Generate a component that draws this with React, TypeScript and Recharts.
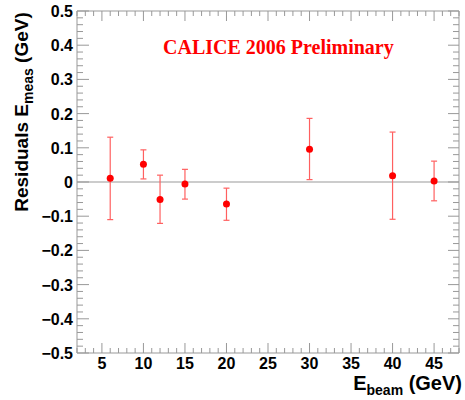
import { ScatterChart, Scatter, XAxis, YAxis, ErrorBar, ReferenceLine, Label } from "recharts";

// beam energies (GeV) and measured residuals (GeV)
const energies = [6, 10, 12, 15, 20, 30, 40, 45];
const residuals = [0.011, 0.052, -0.051, -0.006, -0.064, 0.096, 0.018, 0.003];
const errLow = [0.121, 0.043, 0.07, 0.044, 0.048, 0.089, 0.127, 0.058];
const errHigh = [0.12, 0.042, 0.071, 0.043, 0.046, 0.09, 0.128, 0.058];

const xMajorTicks = [5, 10, 15, 20, 25, 30, 35, 40, 45];
const yMajorTicks = [-0.5, -0.4, -0.3, -0.2, -0.1, 0, 0.1, 0.2, 0.3, 0.4, 0.5];

const AXIS = "#999999";
const RED = "#ff0000";
const SANS = "'Liberation Sans', Arial, sans-serif";
const SERIF = "'Liberation Serif', 'Times New Roman', serif";

// minor ticks: every 1 GeV on x, every 0.02 on y
const xTicks: number[] = [];
for (let v = 2; v <= 48; v++) xTicks.push(v);
const yTicks: number[] = [];
yMajorTicks.slice(0, -1).forEach((m) => {
	for (let k = 0; k < 5; k++) yTicks.push(Math.round((m + k * 0.02) * 100) / 100);
});
yTicks.push(0.5);

const data = energies.map((e, i) => ({
	x: e,
	y: residuals[i],
	err: [errLow[i], errHigh[i]],
}));

const isXMajor = (v: number) => xMajorTicks.includes(v);
const isYMajor = (v: number) => yMajorTicks.some((m) => Math.abs(m - v) < 1e-6);
const fmtY = (v: number) => (v === 0 ? "0" : v < 0 ? "\u2212" + Math.abs(v).toFixed(1) : v.toFixed(1));

const BottomTick = ({ x, y, payload }: any) => {
	const major = isXMajor(payload.value);
	return (
		<g>
			<line x1={x} x2={x} y1={y} y2={y - (major ? 10 : 5)} stroke={AXIS} />
			{major && (
				<text x={x} y={y + 16} textAnchor="middle" fontFamily={SANS} fontWeight="bold" fontSize={16} fill="#000">
					{payload.value}
				</text>
			)}
		</g>
	);
};

const TopTick = ({ x, y, payload }: any) => {
	const major = isXMajor(payload.value);
	return <line x1={x} x2={x} y1={y} y2={y + (major ? 10 : 5)} stroke={AXIS} />;
};

const LeftTick = ({ x, y, payload }: any) => {
	const major = isYMajor(payload.value);
	return (
		<g>
			<line x1={x} x2={x + (major ? 12 : 6)} y1={y} y2={y} stroke={AXIS} />
			{major && (
				<text x={x - 4} y={y + 6} textAnchor="end" fontFamily={SANS} fontWeight="bold" fontSize={16} fill="#000">
					{fmtY(payload.value)}
				</text>
			)}
		</g>
	);
};

const RightTick = ({ x, y, payload }: any) => {
	const major = isYMajor(payload.value);
	return <line x1={x} x2={x - (major ? 11 : 6)} y1={y} y2={y} stroke={AXIS} />;
};

const Dot = (props: any) => <circle cx={props.cx} cy={props.cy} r={3.5} fill={RED} />;
const NoDot = () => <g />;

export default function App() {
	return (
		<div style={{ position: "absolute", left: 0, top: 0, width: 465, height: 400, background: "#fff" }}>
			<ScatterChart width={465} height={400} margin={{ top: 10, right: 5, bottom: 0, left: 0 }}>
				<XAxis
					xAxisId="bottom"
					type="number"
					dataKey="x"
					domain={[2, 48]}
					ticks={xTicks}
					interval={0}
					tickSize={0}
					tickMargin={0}
					tickLine={false}
					tick={BottomTick}
					height={47}
					stroke={AXIS}
				>
					<Label
						content={() => (
							<text x={462} y={390} textAnchor="end" fontFamily={SANS} fontWeight="bold" fontSize={20} fill="#000">
								E<tspan fontSize={14} dy={5}>beam</tspan>
								<tspan dy={-5}> (GeV)</tspan>
							</text>
						)}
					/>
				</XAxis>
				<XAxis
					xAxisId="top"
					orientation="top"
					type="number"
					dataKey="x"
					domain={[2, 48]}
					ticks={xTicks}
					interval={0}
					tickSize={0}
					tickMargin={0}
					tickLine={false}
					tick={TopTick}
					height={1}
					stroke={AXIS}
				/>
				<YAxis
					yAxisId="left"
					type="number"
					dataKey="y"
					domain={[-0.5, 0.5]}
					ticks={yTicks}
					interval={0}
					tickSize={0}
					tickMargin={0}
					tickLine={false}
					tick={LeftTick}
					width={77}
					stroke={AXIS}
				>
					<Label
						content={() => (
							<text
								x={0}
								y={0}
								transform="translate(28 112) rotate(-90)"
								textAnchor="middle"
								fontFamily={SANS}
								fontWeight="bold"
								fontSize={19}
								fill="#000"
							>
								Residuals E<tspan fontSize={14} dy={5}>meas</tspan>
								<tspan dy={-5}> (GeV)</tspan>
							</text>
						)}
					/>
				</YAxis>
				<YAxis
					yAxisId="right"
					orientation="right"
					type="number"
					dataKey="y"
					domain={[-0.5, 0.5]}
					ticks={yTicks}
					interval={0}
					tickSize={0}
					tickMargin={0}
					tickLine={false}
					tick={RightTick}
					width={1}
					stroke={AXIS}
				/>
				<ReferenceLine xAxisId="bottom" yAxisId="left" y={0} stroke={AXIS} strokeWidth={1.2} />
				<Scatter xAxisId="top" yAxisId="right" data={data} shape={NoDot} isAnimationActive={false} />
				<Scatter xAxisId="bottom" yAxisId="left" data={data} shape={Dot} isAnimationActive={false}>
					<ErrorBar dataKey="err" direction="y" width={3} stroke="#ff6060" strokeWidth={1.2} isAnimationActive={false} />
				</Scatter>
				<text x={163} y={54} fontFamily={SERIF} fontWeight="bold" fontSize={20} fill={RED}>
					CALICE 2006 Preliminary
				</text>
			</ScatterChart>
		</div>
	);
}
